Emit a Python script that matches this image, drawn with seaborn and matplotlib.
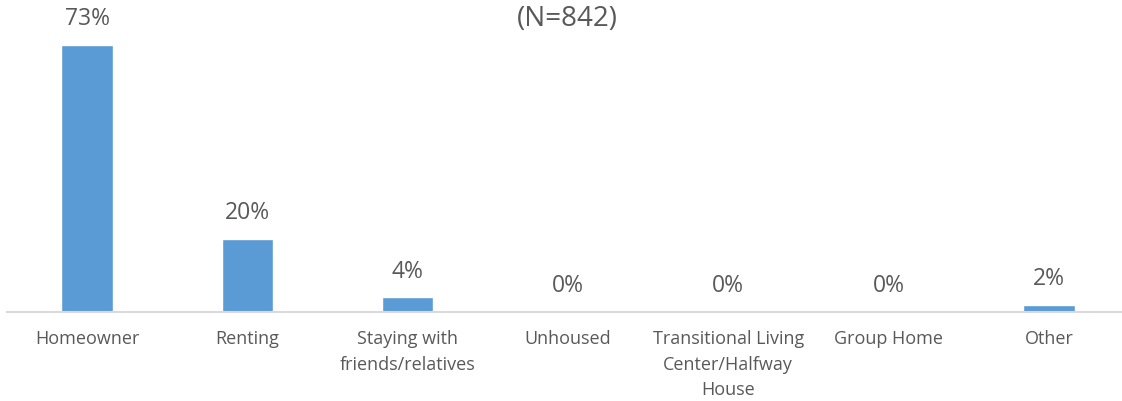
import matplotlib.pyplot as plt
import seaborn as sns

categories = [
    "Homeowner",
    "Renting",
    "Staying with\nfriends/relatives",
    "Unhoused",
    "Transitional Living\nCenter/Halfway\nHouse",
    "Group Home",
    "Other",
]
percentages = [73, 20, 4, 0, 0, 0, 2]
title_text = "(N=842)"

bar_color = "#5B9BD5"
text_color = "#595959"

sns.set_theme(style="white")
plt.rcParams["font.family"] = ["Open Sans", "DejaVu Sans"]

fig = plt.figure(figsize=(11.22, 4.01), dpi=100)
ax = fig.add_axes([7 / 1122, 89 / 401, 1.0, 293 / 401])

sns.barplot(x=categories, y=percentages, color=bar_color, width=0.32,
            saturation=1, ax=ax)

ax.set_xlim(-0.5, 6.5)
ax.set_ylim(0, 80)
ax.set_yticks([])
ax.set_ylabel("")
for side in ["left", "right", "top"]:
    ax.spines[side].set_visible(False)
ax.spines["bottom"].set_color("#D9D9D9")
ax.spines["bottom"].set_linewidth(1.5)

ax.tick_params(axis="x", length=0, pad=13, labelsize=13, labelcolor=text_color)
for lbl in ax.get_xticklabels():
    lbl.set_linespacing(1.55)
    lbl.set_verticalalignment("top")

# value labels above each bar
for i, v in enumerate(percentages):
    ax.annotate(f"{v}%", (i, v), xytext=(0, 18.5), textcoords="offset points",
                ha="center", va="center", fontsize=16.5, color=text_color)

fig.text(567 / 1122, 1 - 26 / 401, title_text, ha="center", va="baseline",
         fontsize=20, color=text_color)

fig.savefig("out.png", dpi=100)
plt.close(fig)
